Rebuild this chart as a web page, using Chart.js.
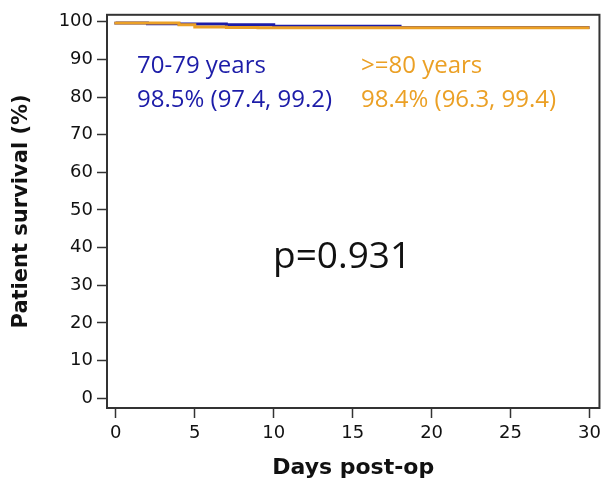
<!DOCTYPE html>
<html>
<head>
<meta charset="utf-8">
<script src="https://cdn.jsdelivr.net/npm/chart.js@4.4.1/dist/chart.umd.min.js"></script>
<style>
  html, body { margin: 0; padding: 0; background: #fff; }
  #wrap { width: 606px; height: 481px; }
</style>
</head>
<body>
<div id="wrap"><canvas id="kmChart"></canvas></div>
<script>
// Kaplan-Meier steps
const daysYoung = [0, 2, 4, 7, 10, 18, 24, 30];
const survYoung = [100, 99.7, 99.5, 99.4, 99.2, 98.8, 98.45, 98.45];
const daysOld = [0, 4, 5, 7, 9, 24, 30];
const survOld = [100, 99.7, 99.2, 98.6, 98.5, 98.4, 98.4];

const groupLabels = ["70-79 years", ">=80 years"];
const groupStats = ["98.5% (97.4, 99.2)", "98.4% (96.3, 99.4)"];
const pValue = "p=0.931";

const xTicks = [0, 5, 10, 15, 20, 25, 30];
const yTicks = [0, 10, 20, 30, 40, 50, 60, 70, 80, 90, 100];

const blue = "#1c1ca8";
const orange = "#eba025";

function toPoints(xs, ys) {
  return xs.map((x, i) => ({ x: x, y: ys[i] }));
}

// frame + text annotations
const extras = {
  id: "extras",
  afterDatasetsDraw(chart) {
    const { ctx, chartArea } = chart;
    ctx.save();
    ctx.strokeStyle = "#333";
    ctx.lineWidth = 2;
    ctx.strokeRect(chartArea.left, chartArea.top, chartArea.right - chartArea.left, chartArea.bottom - chartArea.top);

    ctx.textBaseline = "alphabetic";
    ctx.font = "24px 'Open Sans'";
    ctx.fillStyle = blue;
    ctx.fillText(groupLabels[0], 137, 73);
    ctx.fillText(groupStats[0], 137, 107);
    ctx.fillStyle = orange;
    ctx.fillText(groupLabels[1], 361, 73);
    ctx.fillText(groupStats[1], 361, 107);

    ctx.fillStyle = "#111";
    ctx.font = "37px 'Open Sans'";
    ctx.fillText(pValue, 273, 268);
    ctx.restore();
  },
};

new Chart(document.getElementById("kmChart"), {
  type: "line",
  data: {
    datasets: [
      {
        label: groupLabels[0],
        data: toPoints(daysYoung, survYoung),
        borderColor: blue,
        borderWidth: 3,
        stepped: "after",
        pointRadius: 0,
        fill: false,
        order: 2,
      },
      {
        label: groupLabels[1],
        data: toPoints(daysOld, survOld),
        borderColor: orange,
        borderWidth: 3,
        stepped: "after",
        pointRadius: 0,
        fill: false,
        order: 1,
      },
    ],
  },
  options: {
    responsive: true,
    maintainAspectRatio: false,
    animation: false,
    layout: { padding: { top: 13, right: 2, left: 0, bottom: 0 } },
    plugins: { legend: { display: false }, tooltip: { enabled: false } },
    scales: {
      x: {
        type: "linear",
        min: -0.56,
        max: 30.63,
        afterFit: (s) => { s.height = 73; },
        afterBuildTicks: (s) => { s.ticks = xTicks.map((v) => ({ value: v })); },
        ticks: { color: "#111", font: { family: "DejaVu Sans", size: 18 }, padding: 5 },
        grid: { drawOnChartArea: false, tickLength: 10, tickColor: "#333", tickWidth: 1.5 },
        border: { color: "#333", width: 2 },
        title: {
          display: true,
          text: "Days post-op",
          color: "#111",
          font: { family: "DejaVu Sans", size: 22, weight: "bold" },
          padding: { top: 0, bottom: 0 },
        },
      },
      y: {
        min: -2.6,
        max: 101.85,
        afterFit: (s) => { s.width = 107; },
        afterBuildTicks: (s) => { s.ticks = yTicks.map((v) => ({ value: v })); },
        ticks: { color: "#111", font: { family: "DejaVu Sans", size: 18 }, padding: 4 },
        grid: { drawOnChartArea: false, tickLength: 10, tickColor: "#333", tickWidth: 1.5 },
        border: { color: "#333", width: 2 },
        title: {
          display: true,
          text: "Patient survival (%)",
          color: "#111",
          font: { family: "DejaVu Sans", size: 21, weight: "bold" },
          padding: { top: 9, bottom: 0 },
        },
      },
    },
  },
  plugins: [extras],
});
</script>
</body>
</html>
